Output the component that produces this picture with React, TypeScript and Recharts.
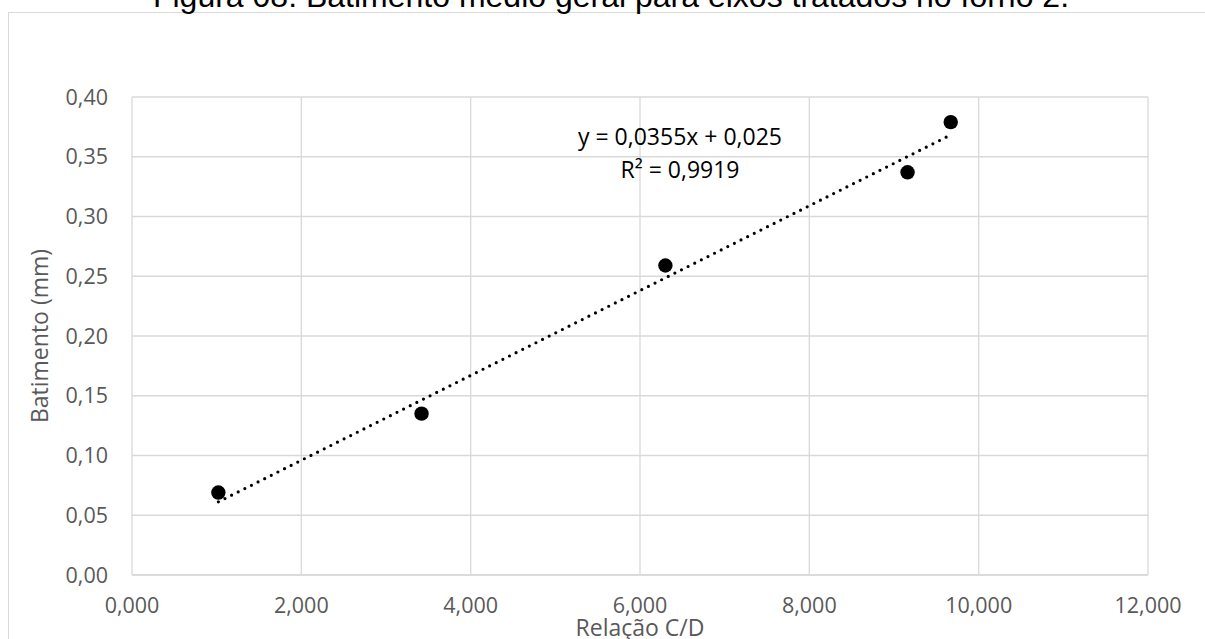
import React from "react";
import {
  CartesianGrid,
  ReferenceLine,
  Scatter,
  ScatterChart,
  XAxis,
  YAxis,
} from "recharts";

const RATIO = [1.02, 3.42, 6.3, 9.16, 9.67];
const RUNOUT = [0.069, 0.135, 0.259, 0.337, 0.379];
const X_TICKS = [0, 2, 4, 6, 8, 10, 12];
const Y_TICKS = [0, 0.05, 0.1, 0.15, 0.2, 0.25, 0.3, 0.35, 0.4];
const SLOPE = 0.0355;
const INTERCEPT = 0.025;
const EQUATION = "y = 0,0355x + 0,025";
const R2 = "R² = 0,9919";

const GRID = "#d9d9d9";
const TEXT = "#595959";
const FONT = "'Open Sans', sans-serif";

const points = RATIO.map((x, i) => ({ x, y: RUNOUT[i] }));
const xMin = Math.min(...RATIO);
const xMax = Math.max(...RATIO);
const trend = [
  { x: xMin, y: SLOPE * xMin + INTERCEPT },
  { x: xMax, y: SLOPE * xMax + INTERCEPT },
];

const fmtX = (v: number) => v.toFixed(3).replace(".", ",");
const fmtY = (v: number) => v.toFixed(2).replace(".", ",");

const Dot = (p: any) => <circle cx={p.cx} cy={p.cy} r={7.2} fill="#000" />;

export default function App() {
  return (
    <div
      style={{
        position: "absolute",
        left: 0,
        top: 0,
        width: 1205,
        height: 639,
        overflow: "hidden",
        background: "#fff",
      }}
    >
      <div
        style={{
          position: "absolute",
          left: 8,
          top: 12,
          width: 1400,
          height: 800,
          border: `1px solid ${GRID}`,
        }}
      />
      <ScatterChart
        width={1205}
        height={639}
        margin={{ top: 97, right: 57, bottom: 0, left: 0 }}
        style={{ position: "absolute", left: 0, top: 0 }}
      >
        <CartesianGrid stroke={GRID} strokeWidth={1.3} />
        <XAxis
          type="number"
          dataKey="x"
          domain={[0, 12]}
          ticks={X_TICKS}
          tickFormatter={fmtX}
          height={64}
          tickLine={false}
          axisLine={{ stroke: GRID, strokeWidth: 1.3 }}
          tickSize={0}
          tickMargin={23}
          tick={{ fill: TEXT, fontSize: 21.5, fontFamily: FONT }}
        />
        <YAxis
          type="number"
          dataKey="y"
          domain={[0, 0.4]}
          ticks={Y_TICKS}
          tickFormatter={fmtY}
          width={132}
          tickLine={false}
          axisLine={false}
          tickSize={0}
          tickMargin={24}
          tick={{ fill: TEXT, fontSize: 21.5, fontFamily: FONT }}
        />
        <ReferenceLine
          segment={trend}
          stroke="#000"
          strokeWidth={3.2}
          strokeDasharray="0 7.4"
          strokeLinecap="round"
        />
        <Scatter data={points} fill="#000" isAnimationActive={false} shape={Dot} />
      </ScatterChart>
      <svg
        width={1205}
        height={639}
        style={{ position: "absolute", left: 0, top: 0, pointerEvents: "none" }}
      >
        <text
          x={611}
          y={7}
          textAnchor="middle"
          fontFamily="'Liberation Sans', Arial, sans-serif"
          fontSize={32}
          fill="#000"
        >
          Figura 08: Batimento médio geral para eixos tratados no forno 2.
        </text>
        <text x={680} y={145} textAnchor="middle" fontFamily={FONT} fontSize={23} fill="#000">
          {EQUATION}
        </text>
        <text x={680} y={178} textAnchor="middle" fontFamily={FONT} fontSize={23} fill="#000">
          {R2}
        </text>
        <text
          x={640}
          y={636}
          textAnchor="middle"
          fontFamily={FONT}
          fontSize={23}
          fill={TEXT}
        >
          Relação C/D
        </text>
        <text
          transform="translate(48 336) rotate(-90)"
          textAnchor="middle"
          fontFamily={FONT}
          fontSize={23}
          fill={TEXT}
        >
          Batimento (mm)
        </text>
      </svg>
    </div>
  );
}
